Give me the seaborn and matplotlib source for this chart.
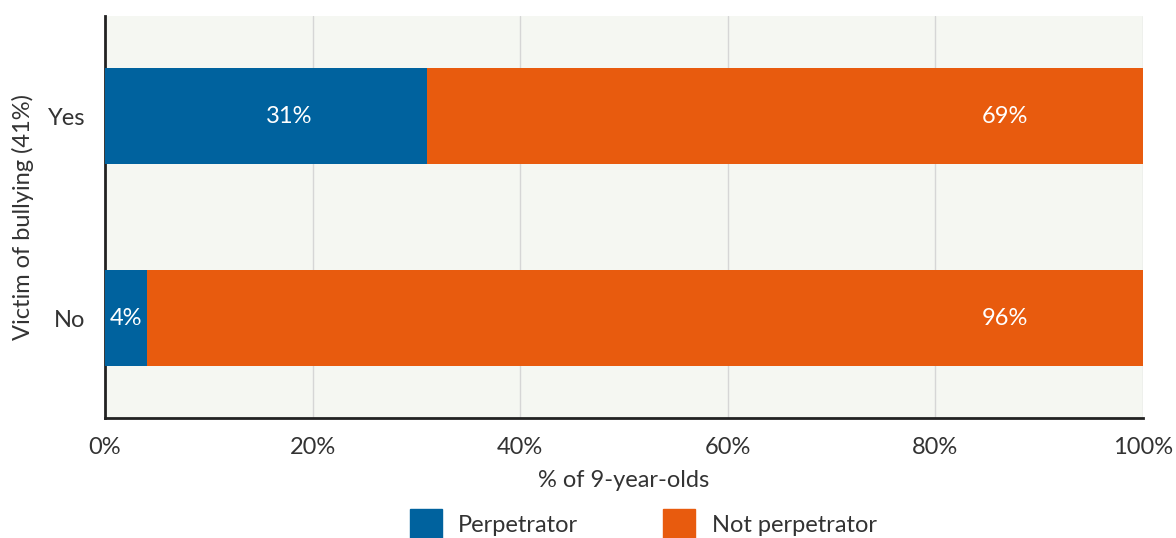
import matplotlib
matplotlib.use("Agg")
from matplotlib import pyplot as plt
from matplotlib.patches import Patch
import seaborn as sns
import pandas as pd

# data
victim = ["Yes", "No"]
perpetrator = [31, 4]
not_perpetrator = [69, 96]
x_ticks = [0, 20, 40, 60, 80, 100]

blue = "#00629E"
orange = "#E85B0E"
fs = 17

sns.set_theme(style="white")
plt.rcParams["font.family"] = ["Lato", "DejaVu Sans"]

df = pd.DataFrame({"victim": victim,
                   "perp": perpetrator,
                   "notperp": not_perpetrator})
df["total"] = df["perp"] + df["notperp"]

fig, ax = plt.subplots(figsize=(11.76, 5.38), dpi=100)
fig.subplots_adjust(left=0.0893, right=0.972, top=0.970, bottom=0.223)
ax.set_facecolor("#F5F7F2")

# stacked bars: full bar in orange, perpetrator share on top in blue
sns.barplot(data=df, x="total", y="victim", orient="h", color=orange,
            saturation=1, width=0.475, linewidth=0, ax=ax, zorder=2)
sns.barplot(data=df, x="perp", y="victim", orient="h", color=blue,
            saturation=1, width=0.475, linewidth=0, ax=ax, zorder=3)

# value labels placed towards the end of each segment
offset = 13.3
for i, row in df.iterrows():
    segs = [(0, row["perp"]), (row["perp"], row["notperp"])]
    for start, w in segs:
        end = start + w
        xpos = max(start + w / 2, end - offset)
        ax.text(xpos, i, f"{w}%", color="white", fontsize=fs,
                ha="center", va="center", zorder=4)

ax.set_xlim(0, 100)
ax.set_ylim(1.495, -0.495)
ax.set_xticks(x_ticks)
ax.set_xticklabels([f"{t}%" for t in x_ticks], fontsize=fs, color="#333333")
ax.tick_params(axis="y", labelsize=fs, labelcolor="#333333", length=0, pad=14)
ax.tick_params(axis="x", length=0, pad=14)
ax.xaxis.grid(True, color="#D6D6D6", linewidth=1, zorder=0)
ax.set_axisbelow(True)

ax.set_xlabel("% of 9-year-olds", fontsize=fs, color="#333333", labelpad=8)
ax.set_ylabel("Victim of bullying (41%)", fontsize=fs, color="#333333", labelpad=10)

for side in ["top", "right"]:
    ax.spines[side].set_visible(False)
for side in ["left", "bottom"]:
    ax.spines[side].set_color("#222222")
    ax.spines[side].set_linewidth(2)

handles = [Patch(color=blue, label="Perpetrator"),
           Patch(color=orange, label="Not perpetrator")]
fig.legend(handles=handles, loc="upper center", bbox_to_anchor=(0.547, 1 - 497 / 538),
           ncol=2, frameon=False, fontsize=fs, handlelength=1.35, handleheight=1.6,
           columnspacing=3.6, handletextpad=0.7, borderpad=0, labelcolor="#333333")

fig.savefig("out.png", dpi=100)
